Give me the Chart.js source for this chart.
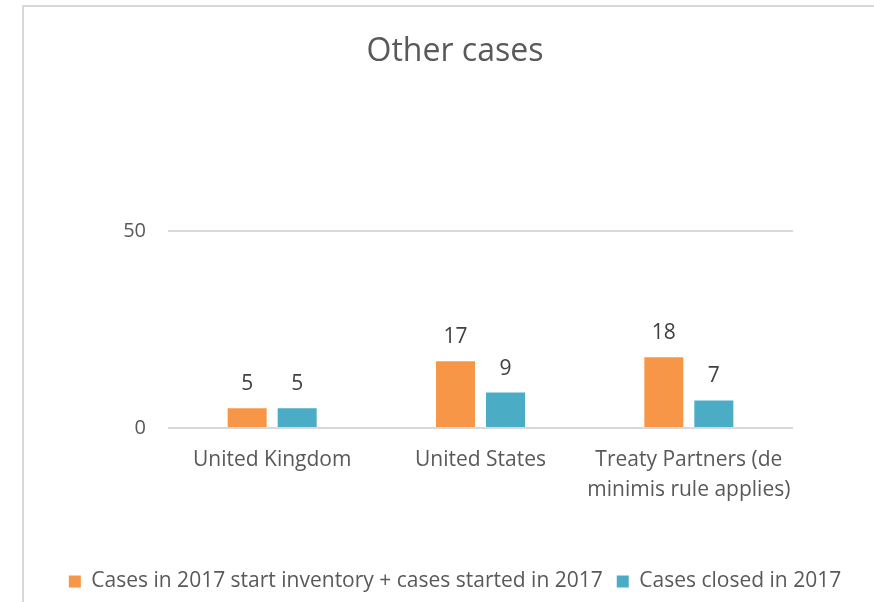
<!DOCTYPE html>
<html>
<head>
<meta charset="utf-8">
<script src="https://cdn.jsdelivr.net/npm/chart.js@4/dist/chart.umd.min.js"></script>
<style>
  html, body { margin: 0; padding: 0; background: #fff; overflow: hidden; }
  #frame {
    position: absolute; left: 22px; top: 5px; width: 900px; height: 700px;
    border-left: 2px solid #d9d9d9; border-top: 2px solid #d9d9d9;
  }
  #wrap { position: absolute; left: 0; top: 0; width: 910px; height: 602px; }
</style>
</head>
<body>
<div id="frame"></div>
<div id="wrap"><canvas id="otherCases"></canvas></div>
<script>
const categories = ['United Kingdom', 'United States', ['Treaty Partners (de', 'minimis rule applies)']];
const casesInventory = [5, 17, 18];
const casesClosed = [5, 9, 7];
const yTicks = [0, 50];

const FONT = "'Open Sans', 'Liberation Sans', sans-serif";

// draws the value above each bar
const barValues = {
    id: 'barValues',
    afterDatasetsDraw(chart) {
        const ctx = chart.ctx;
        ctx.save();
        ctx.font = '21px ' + FONT;
        ctx.fillStyle = '#404040';
        ctx.textAlign = 'center';
        ctx.textBaseline = 'middle';
        chart.data.datasets.forEach((ds, i) => {
            chart.getDatasetMeta(i).data.forEach((bar, j) => {
                ctx.fillText(ds.data[j], bar.x, bar.y - 24);
            });
        });
        ctx.restore();
    }
};

new Chart(document.getElementById('otherCases'), {
    type: 'bar',
    data: {
        labels: categories,
        datasets: [{
            label: 'Cases in 2017 start inventory + cases started in 2017',
            data: casesInventory,
            backgroundColor: '#F79646',
            categoryPercentage: 0.48,
            barPercentage: 0.78
        }, {
            label: 'Cases closed in 2017',
            data: casesClosed,
            backgroundColor: '#4BACC6',
            categoryPercentage: 0.48,
            barPercentage: 0.78
        }]
    },
    options: {
        responsive: true,
        maintainAspectRatio: false,
        animation: false,
        layout: {
            padding: { left: 0, right: 0, top: 0, bottom: 0 }
        },
        plugins: {
            title: {
                display: true,
                text: 'Other cases',
                color: '#595959',
                font: { family: FONT, size: 32, weight: 'normal', lineHeight: 1.2 },
                padding: { top: 33, bottom: 160 }
            },
            legend: {
                position: 'bottom',
                labels: {
                    color: '#595959',
                    font: { family: FONT, size: 21 },
                    boxWidth: 12,
                    boxHeight: 12,
                    padding: 14
                }
            },
            tooltip: { enabled: false }
        },
        scales: {
            x: {
                grid: { display: false, drawTicks: false },
                border: { display: false },
                ticks: {
                    color: '#595959',
                    font: { family: FONT, size: 21, lineHeight: 1.43 },
                    padding: 17,
                    maxRotation: 0
                },
                afterFit: (scale) => { scale.height = 129; }
            },
            y: {
                min: 0,
                max: 50,
                afterBuildTicks: (scale) => { scale.ticks = yTicks.map(v => ({ value: v })); },
                grid: { color: '#d9d9d9', lineWidth: 2, drawTicks: false },
                border: { display: false },
                ticks: {
                    color: '#595959',
                    font: { family: FONT, size: 20 },
                    padding: 22
                },
                afterFit: (scale) => { scale.width = 168; }
            },
            // empty spacer on the right so the plot stops where the original does
            spacer: {
                position: 'right',
                grid: { display: false, drawTicks: false },
                border: { display: false },
                ticks: { display: false },
                afterFit: (scale) => { scale.width = 117; }
            }
        }
    },
    plugins: [barValues]
});
</script>
</body>
</html>
